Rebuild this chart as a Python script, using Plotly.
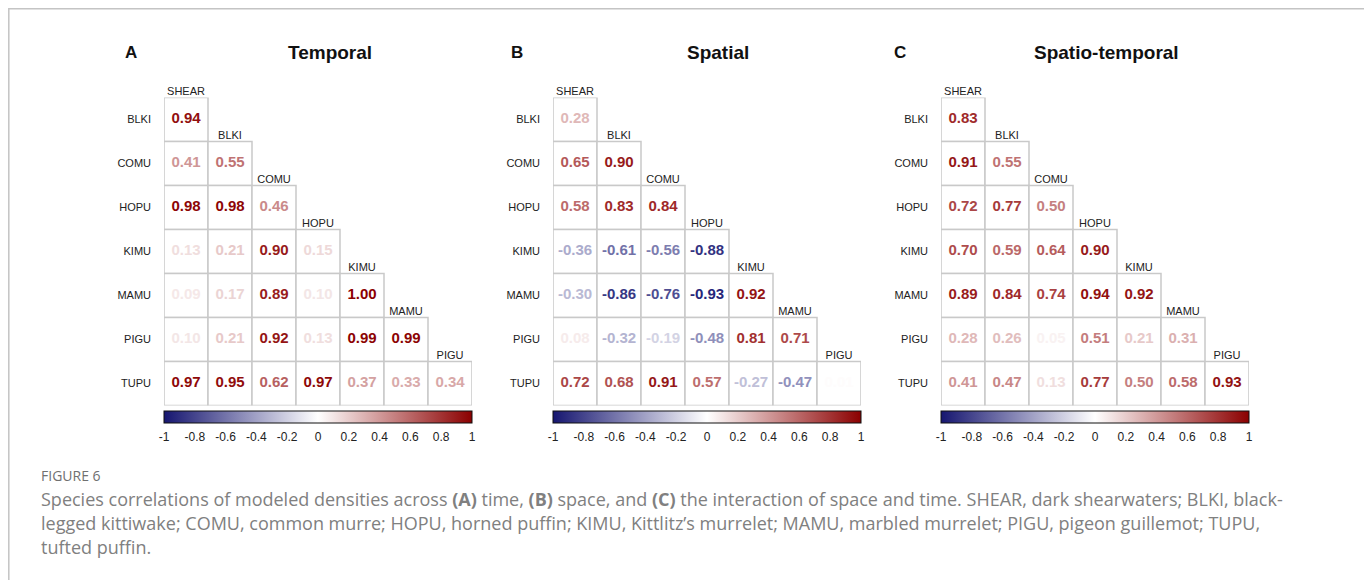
import plotly.graph_objects as go

# species order (rows BLKI..TUPU, columns SHEAR..PIGU)
row_species = ["BLKI", "COMU", "HOPU", "KIMU", "MAMU", "PIGU", "TUPU"]
col_species = ["SHEAR", "BLKI", "COMU", "HOPU", "KIMU", "MAMU", "PIGU"]

# lower-triangle correlations, one list per row
temporal = [
    [0.94],
    [0.41, 0.55],
    [0.98, 0.98, 0.46],
    [0.13, 0.21, 0.90, 0.15],
    [0.09, 0.17, 0.89, 0.10, 1.00],
    [0.10, 0.21, 0.92, 0.13, 0.99, 0.99],
    [0.97, 0.95, 0.62, 0.97, 0.37, 0.33, 0.34],
]
spatial = [
    [0.28],
    [0.65, 0.90],
    [0.58, 0.83, 0.84],
    [-0.36, -0.61, -0.56, -0.88],
    [-0.30, -0.86, -0.76, -0.93, 0.92],
    [0.08, -0.32, -0.19, -0.48, 0.81, 0.71],
    [0.72, 0.68, 0.91, 0.57, -0.27, -0.47, 0.01],
]
spatio_temporal = [
    [0.83],
    [0.91, 0.55],
    [0.72, 0.77, 0.50],
    [0.70, 0.59, 0.64, 0.90],
    [0.89, 0.84, 0.74, 0.94, 0.92],
    [0.28, 0.26, 0.05, 0.51, 0.21, 0.31],
    [0.41, 0.47, 0.13, 0.77, 0.50, 0.58, 0.93],
]

panels = [
    ("A", "Temporal", temporal),
    ("B", "Spatial", spatial),
    ("C", "Spatio-temporal", spatio_temporal),
]
cbar_ticks = [-1, -0.8, -0.6, -0.4, -0.2, 0, 0.2, 0.4, 0.6, 0.8, 1]

W, H = 1372, 580
OFF = 8  # the page body margin shifts the figure by 8px
NEG = (22, 22, 112)
MID = (255, 255, 255)
POS = (139, 0, 0)
colorscale = [[0, "rgb(%d,%d,%d)" % NEG], [0.5, "rgb(255,255,255)"], [1, "rgb(%d,%d,%d)" % POS]]


def value_color(v):
    end = POS if v >= 0 else NEG
    t = min(abs(v), 1)
    r, g, b = (round(MID[i] + (end[i] - MID[i]) * t) for i in range(3))
    return f"rgb({r},{g},{b})"


def px_x(x):
    return (x - OFF) / W


def px_y(y):
    return 1 - (y - OFF) / H


fig = go.Figure()

grid_left = [164, 553, 941]
grid_top, grid_bottom = 97.5, 405.5
cell = 44
letter_x = [131, 517, 900]
title_x = [330, 718, 1106]
FONT = "Arial, Liberation Sans"

for k, (letter, title, data) in enumerate(panels):
    n = k + 1
    xa = "x" if n == 1 else f"x{n}"
    ya = "y" if n == 1 else f"y{n}"
    ca = "coloraxis" if n == 1 else f"coloraxis{n}"

    xs, ys, vals = [], [], []
    for r, row in enumerate(data):
        for c, v in enumerate(row):
            xs.append(c)
            ys.append(r)
            vals.append(v)
            fig.add_shape(type="rect", xref=xa, yref=ya,
                          x0=c - 0.5, x1=c + 0.5, y0=r - 0.5, y1=r + 0.5,
                          line=dict(color="#c9c9c9", width=1.5),
                          fillcolor="white", layer="below")

    # correlation values
    fig.add_trace(go.Scatter(
        x=xs, y=ys, xaxis=xa, yaxis=ya,
        mode="markers+text",
        text=[f"{v:.2f}" for v in vals],
        textposition="middle center",
        textfont=dict(family=FONT, size=15, weight="bold",
                      color=[value_color(v) for v in vals]),
        marker=dict(size=1, opacity=0, color=vals, coloraxis=ca),
        hoverinfo="skip", cliponaxis=False,
    ))

    # column labels sitting on top of each diagonal cell
    fig.add_trace(go.Scatter(
        x=list(range(len(col_species))),
        y=[c - 0.5 for c in range(len(col_species))],
        xaxis=xa, yaxis=ya,
        mode="text", text=col_species, textposition="top center",
        textfont=dict(family=FONT, size=11, color="#222"),
        hoverinfo="skip", cliponaxis=False,
    ))

    x0 = grid_left[k]
    fig.update_layout({
        ("xaxis" if n == 1 else f"xaxis{n}"): dict(
            domain=[px_x(x0), px_x(x0 + 7 * cell)], range=[-0.5, 6.5],
            showgrid=False, zeroline=False, showline=False, showticklabels=False,
            anchor=ya,
        ),
        ("yaxis" if n == 1 else f"yaxis{n}"): dict(
            domain=[px_y(grid_bottom), px_y(grid_top)], range=[6.5, -0.5],
            showgrid=False, zeroline=False, showline=False,
            tickvals=list(range(len(row_species))), ticktext=row_species,
            ticks="", ticklabelstandoff=12,
            tickfont=dict(family=FONT, size=11, color="#222"),
            anchor=xa,
        ),
        ca: dict(
            cmin=-1, cmax=1, colorscale=colorscale,
            colorbar=dict(
                orientation="h", x=px_x(x0 + 3.5 * cell), xanchor="center",
                y=px_y(411), yanchor="top",
                len=7 * cell, lenmode="pixels", thickness=12,
                xpad=0, ypad=0, outlinewidth=1, outlinecolor="#111",
                tickvals=cbar_ticks, ticktext=[f"{t:g}" for t in cbar_ticks],
                ticks="outside", ticklen=4, tickcolor="white",
                tickfont=dict(family=FONT, size=12, color="#222"),
            ),
        ),
    })

    fig.add_annotation(x=px_x(letter_x[k]), y=px_y(53), xref="paper", yref="paper",
                       xanchor="center", yanchor="middle",
                       text=f"<b>{letter}</b>", showarrow=False,
                       font=dict(family=FONT, size=17, color="#111"))
    fig.add_annotation(x=px_x(title_x[k]), y=px_y(53), xref="paper", yref="paper",
                       xanchor="center", yanchor="middle",
                       text=f"<b>{title}</b>", showarrow=False,
                       font=dict(family=FONT, size=19, color="#111"))

# caption
caption_font = "Open Sans, Noto Sans"
fig.add_annotation(x=px_x(39), y=px_y(475), xref="paper", yref="paper",
                   xanchor="left", yanchor="middle",
                   text="FIGURE 6", showarrow=False,
                   font=dict(family=caption_font, size=14, color="#707070"))
caption_lines = [
    "Species correlations of modeled densities across <b>(A)</b> time, <b>(B)</b> space, and <b>(C)</b> the interaction of space and time. SHEAR, dark shearwaters; BLKI, black-",
    "legged kittiwake; COMU, common murre; HOPU, horned puffin; KIMU, Kittlitz\u2019s murrelet; MAMU, marbled murrelet; PIGU, pigeon guillemot; TUPU,",
    "tufted puffin.",
]
for i, line in enumerate(caption_lines):
    fig.add_annotation(x=px_x(39), y=px_y(499 + 24 * i), xref="paper", yref="paper",
                       xanchor="left", yanchor="middle", text=line, showarrow=False,
                       font=dict(family=caption_font, size=18, color="#808080"))

# page frame
fig.add_shape(type="rect", xref="paper", yref="paper",
              x0=px_x(8.8), x1=px_x(1367), y0=-0.1, y1=px_y(8.8),
              line=dict(color="#c4c4c4", width=1.5), layer="below")

fig.update_layout(
    width=W, height=H,
    margin=dict(l=0, r=0, t=0, b=0),
    paper_bgcolor="white", plot_bgcolor="rgba(0,0,0,0)",
    showlegend=False,
)

fig.write_html("out.html")
